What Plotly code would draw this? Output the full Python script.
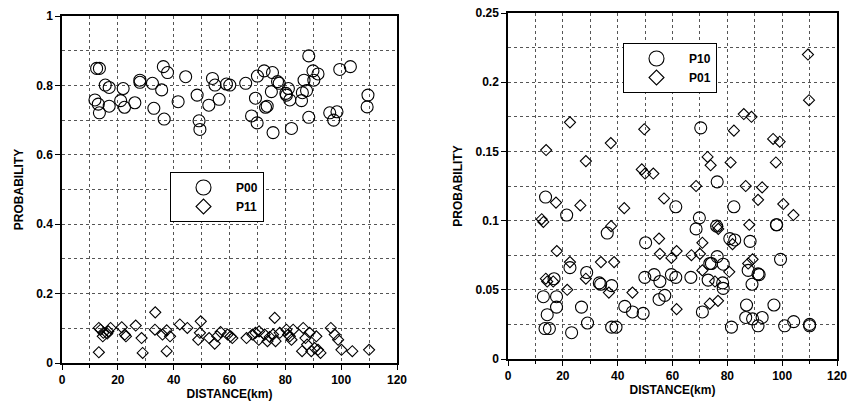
import plotly.graph_objects as go

# ---------------- Left panel data ----------------
p00_dist = [12.4, 13.4, 11.8, 13.0, 13.4, 15.5, 16.9, 16.9, 21.9, 21.0, 22.4, 26.1, 27.9, 27.9,
            32.4, 32.9, 35.7, 36.3, 37.8, 36.6, 41.6, 44.3, 48.4, 49.1, 49.4, 52.6, 53.9, 54.8,
            56.3, 58.9, 60.1, 65.8, 67.9, 69.3, 69.9, 70.0, 72.4, 72.9, 73.5, 75.4, 75.0, 75.6,
            77.2, 77.8, 80.2, 80.4, 81.1, 81.6, 82.2, 85.8, 86.1, 86.7, 87.6, 88.4, 88.4, 89.9,
            90.2, 91.7, 95.9, 97.3, 98.5, 99.5, 103.3, 109.6, 109.3]
p00_prob = [0.849, 0.849, 0.758, 0.746, 0.721, 0.801, 0.794, 0.740, 0.791, 0.756, 0.737, 0.750,
            0.815, 0.809, 0.806, 0.734, 0.787, 0.854, 0.837, 0.703, 0.753, 0.825, 0.772, 0.698,
            0.673, 0.743, 0.820, 0.801, 0.760, 0.804, 0.801, 0.806, 0.712, 0.763, 0.692, 0.827,
            0.842, 0.737, 0.740, 0.837, 0.782, 0.664, 0.811, 0.806, 0.777, 0.772, 0.791, 0.758,
            0.676, 0.756, 0.779, 0.815, 0.785, 0.885, 0.708, 0.842, 0.815, 0.833, 0.721, 0.700,
            0.724, 0.846, 0.854, 0.772, 0.738]

p11_dist = [13.2, 13.8, 13.2, 14.8, 14.6, 16.6, 17.4, 16.2, 21.4, 22.5, 22.9, 26.4, 28.5, 28.9,
            33.4, 33.3, 36.0, 37.5, 37.5, 38.7, 42.2, 44.9, 49.7, 49.4, 48.8, 52.7, 54.7, 55.6,
            56.8, 59.3, 60.4, 61.0, 66.1, 68.2, 69.3, 70.6, 70.5, 72.6, 73.6, 74.4, 75.6, 76.2,
            76.5, 78.0, 80.4, 81.0, 81.6, 82.2, 82.8, 86.4, 86.0, 87.2, 87.8, 88.7, 89.3, 91.1,
            90.5, 91.7, 92.6, 96.3, 97.7, 98.9, 100.1, 104.0, 110.0]
p11_prob = [0.101, 0.096, 0.031, 0.087, 0.077, 0.091, 0.101, 0.085, 0.103, 0.082, 0.077, 0.108,
            0.072, 0.029, 0.146, 0.096, 0.082, 0.094, 0.034, 0.077, 0.111, 0.101, 0.120, 0.087,
            0.067, 0.072, 0.056, 0.077, 0.089, 0.082, 0.077, 0.072, 0.072, 0.082, 0.087, 0.091,
            0.067, 0.082, 0.063, 0.075, 0.082, 0.130, 0.063, 0.087, 0.096, 0.082, 0.077, 0.067,
            0.096, 0.101, 0.034, 0.072, 0.053, 0.087, 0.034, 0.077, 0.043, 0.038, 0.029, 0.101,
            0.082, 0.067, 0.038, 0.034, 0.038]

# ---------------- Right panel data ----------------
p10_dist = [13.7, 21.4, 61.2, 82.4, 68.6, 36.2, 50.2, 97.9, 70.3, 76.3, 69.8, 76.1, 98.0, 80.9,
            82.7, 88.3, 99.4, 22.6, 28.7, 33.3, 33.8, 37.8, 12.9, 14.3, 13.5, 15.1, 17.7, 17.7,
            16.8, 23.2, 26.8, 29.0, 37.8, 39.4, 42.6, 45.4, 49.3, 49.9, 53.3, 55.4, 55.1, 57.2,
            59.6, 61.2, 66.7, 70.9, 73.0, 73.6, 74.2, 76.3, 78.5, 78.3, 78.5, 81.5, 87.0, 86.7,
            87.6, 89.0, 89.2, 91.2, 91.6, 91.2, 92.7, 97.0, 100.9, 104.2, 110.0, 110.0]
p10_prob = [0.117, 0.104, 0.110, 0.110, 0.094, 0.091, 0.084, 0.097, 0.167, 0.128, 0.102, 0.096,
            0.097, 0.087, 0.086, 0.085, 0.072, 0.066, 0.0625, 0.055, 0.054, 0.053, 0.045, 0.032,
            0.022, 0.022, 0.045, 0.0375, 0.058, 0.019, 0.0375, 0.026, 0.023, 0.023, 0.038, 0.034,
            0.033, 0.059, 0.061, 0.056, 0.043, 0.046, 0.061, 0.059, 0.059, 0.034, 0.057, 0.069,
            0.069, 0.074, 0.0685, 0.055, 0.051, 0.023, 0.039, 0.030, 0.064, 0.054, 0.029, 0.0615,
            0.061, 0.024, 0.030, 0.039, 0.024, 0.027, 0.025, 0.024]

p01_dist = [109.4, 109.8, 22.6, 13.9, 28.4, 37.5, 49.7, 48.8, 50.0, 53.0, 86.0, 88.8, 82.4, 96.7,
            99.1, 81.2, 97.7, 72.8, 73.9, 68.6, 86.7, 92.7, 17.5, 26.4, 42.4, 56.9, 91.2, 100.4,
            104.1, 12.3, 12.9, 37.6, 55.1, 76.7, 88.0, 81.9, 70.9, 76.4, 17.8, 22.6, 28.4, 33.9,
            38.7, 55.4, 59.6, 61.5, 66.9, 70.0, 70.9, 80.7, 87.6, 89.2, 13.8, 14.3, 16.5, 21.6,
            36.8, 45.4, 61.5, 73.6, 76.6, 75.5]
p01_prob = [0.220, 0.187, 0.171, 0.151, 0.143, 0.156, 0.166, 0.137, 0.134, 0.134, 0.177, 0.175,
            0.165, 0.159, 0.157, 0.142, 0.142, 0.146, 0.140, 0.125, 0.125, 0.124, 0.113, 0.111,
            0.109, 0.116, 0.115, 0.112, 0.104, 0.101, 0.099, 0.096, 0.087, 0.094, 0.097, 0.083,
            0.084, 0.096, 0.078, 0.070, 0.058, 0.070, 0.070, 0.076, 0.073, 0.078, 0.075, 0.076,
            0.064, 0.063, 0.069, 0.072, 0.058, 0.056, 0.056, 0.050, 0.048, 0.048, 0.036, 0.040,
            0.042, 0.056]

FONT = "Liberation Sans"
CIRCLE_SIZE = 12
DIAMOND_SIZE = 8.5


def series(name, x, y, xa, ya, symbol, size):
    return go.Scatter(x=x, y=y, mode="markers", name=name, xaxis=xa, yaxis=ya,
                      showlegend=False,
                      marker=dict(symbol=symbol, size=size, color="black",
                                  line=dict(width=1.1, color="black")))


def legend_entry(name, legend, symbol, size):
    # legend-only entry (no data), so the legend symbol can be drawn larger
    return go.Scatter(x=[None], y=[None], mode="markers", name=name, legend=legend,
                      marker=dict(symbol=symbol, size=size, color="black",
                                  line=dict(width=1.1, color="black")))


fig = go.Figure()
fig.add_trace(series("P00", p00_dist, p00_prob, "x", "y", "circle-open", CIRCLE_SIZE))
fig.add_trace(series("P11", p11_dist, p11_prob, "x", "y", "diamond-open", DIAMOND_SIZE))
fig.add_trace(series("P10", p10_dist, p10_prob, "x2", "y2", "circle-open", CIRCLE_SIZE))
fig.add_trace(series("P01", p01_dist, p01_prob, "x2", "y2", "diamond-open", DIAMOND_SIZE))
fig.add_trace(legend_entry("P00", "legend", "circle-open", 15))
fig.add_trace(legend_entry("P11", "legend", "diamond-open", 11.5))
fig.add_trace(legend_entry("P10", "legend2", "circle-open", 15))
fig.add_trace(legend_entry("P01", "legend2", "diamond-open", 11.5))

W, H = 849, 405
GRID = "#555"


def xaxis_cfg(domain, anchor):
    return dict(domain=domain, anchor=anchor, range=[0, 120], dtick=20, tick0=0,
                automargin=False,
                showline=True, linecolor="black", linewidth=1.5, mirror=True,
                ticks="outside", ticklen=5, tickcolor="black", zeroline=False,
                showgrid=True, gridcolor=GRID, griddash="dot", gridwidth=1,
                minor=dict(dtick=10, showgrid=True, gridcolor=GRID, griddash="dot",
                           ticks="outside", ticklen=3, tickcolor="black"),
                tickfont=dict(family=FONT, size=12, color="black", weight="bold"),
                title=dict(text="DISTANCE(km)", standoff=0,
                           font=dict(family=FONT, size=12, color="black", weight="bold")))


def yaxis_cfg(domain, anchor, rng, dt):
    return dict(domain=domain, anchor=anchor, range=rng, dtick=dt, tick0=0,
                automargin=False,
                showline=True, linecolor="black", linewidth=1.5, mirror=True,
                ticks="outside", ticklen=5, tickcolor="black", zeroline=False,
                showgrid=True, gridcolor=GRID, griddash="dot", gridwidth=1,
                minor=dict(dtick=dt / 2, showgrid=True, gridcolor=GRID, griddash="dot"),
                tickfont=dict(family=FONT, size=12, color="black", weight="bold"),
                title=dict(text="PROBABILITY", standoff=10,
                           font=dict(family=FONT, size=12, color="black", weight="bold")))


legend_common = dict(bgcolor="white", bordercolor="black", borderwidth=1,
                     font=dict(family=FONT, size=12, color="black", weight="bold"),
                     xanchor="left", yanchor="top", itemwidth=55, tracegroupgap=0)

fig.update_layout(
    width=W, height=H,
    margin=dict(l=0, r=0, t=0, b=0),
    paper_bgcolor="white", plot_bgcolor="white",
    xaxis=xaxis_cfg([62 / W, 397 / W], "y"),
    yaxis=yaxis_cfg([1 - 363 / H, 1 - 16 / H], "x", [0, 1], 0.2),
    xaxis2=xaxis_cfg([508 / W, 837 / W], "y2"),
    yaxis2=yaxis_cfg([1 - 359 / H, 1 - 13 / H], "x2", [0, 0.25], 0.05),
    legend=dict(x=170 / W, y=1 - 172 / H, **legend_common),
    legend2=dict(x=623 / W, y=1 - 43 / H, **legend_common),
)

fig.write_html("out.html",
               config={"displayModeBar": False},
               post_script="document.body.style.margin='0';document.body.style.overflow='hidden';")
